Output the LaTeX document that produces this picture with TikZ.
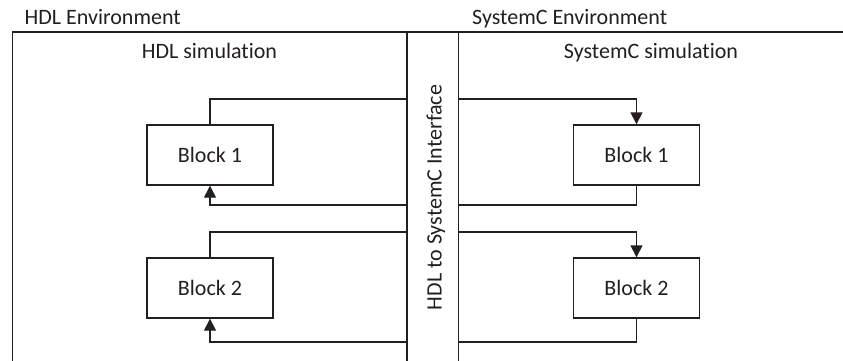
\documentclass[tikz,border=0pt]{standalone}
\usepackage{fontspec}
\setmainfont{Carlito}[Ligatures={NoCommon}]
\usetikzlibrary{arrows.meta}
\definecolor{ink}{RGB}{35,31,32}
\newcommand{\nolig}{\kern0pt}
\begin{document}
\begin{tikzpicture}[x=1pt,y=-1pt,
  every node/.style={text=ink,font=\fontsize{22}{26}\selectfont,inner sep=0pt},
  wire/.style={draw=ink,line width=1.4pt},
  frame/.style={draw=ink,line width=1.4pt},
  arr/.style={wire,-{Triangle[width=12pt,length=12pt]}},
  blockbox/.style={draw=ink,line width=1.4pt,minimum width=126pt,minimum height=60pt}]
\useasboundingbox (0,0) rectangle (843,361);
% frame
\draw[frame] (12.5,361) -- (12.5,32) -- (843,32);
\node[minimum width=51pt,minimum height=329pt,anchor=north west] (iface) at (407,32) {};
\draw[frame] (iface.north west) -- (iface.south west);
\draw[frame] (iface.north east) -- (iface.south east);
% titles
\node[anchor=base west] (henv) at (24.5,25) {HDL Environment};
\node[anchor=base west] (senv) at (472,25) {SystemC Environment};
\node[anchor=base] (hsim) at (209.5,58.3) {HDL simulat\nolig ion};
\node[anchor=base] (ssim) at (651,58.3) {SystemC simulat\nolig ion};
\node[rotate=90,anchor=base] (itext) at (441.5,197.5) {HDL to SystemC Interface};
% blocks
\node[blockbox] (lb1) at (210,155) {Block 1};
\node[blockbox] (lb2) at (210,288) {Block 2};
\node[blockbox] (rb1) at (636.5,155) {Block 1};
\node[blockbox] (rb2) at (636.5,288) {Block 2};
% interface ports
\coordinate (l1o) at (iface.west |- 0,99);
\coordinate (l1i) at (iface.west |- 0,205);
\coordinate (l2o) at (iface.west |- 0,232);
\coordinate (l2i) at (iface.west |- 0,342);
\coordinate (r1i) at (iface.east |- 0,99);
\coordinate (r1o) at (iface.east |- 0,205);
\coordinate (r2i) at (iface.east |- 0,232);
\coordinate (r2o) at (iface.east |- 0,342);
% left connectors
\draw[wire] (lb1.north) |- (l1o);
\draw[arr] (l1i) -| (lb1.south);
\draw[wire] (lb2.north) |- (l2o);
\draw[arr] (l2i) -| (lb2.south);
% right connectors
\draw[arr] (r1i) -| (rb1.north);
\draw[wire] (rb1.south) |- (r1o);
\draw[arr] (r2i) -| (rb2.north);
\draw[wire] (rb2.south) |- (r2o);
\end{tikzpicture}
\end{document}
